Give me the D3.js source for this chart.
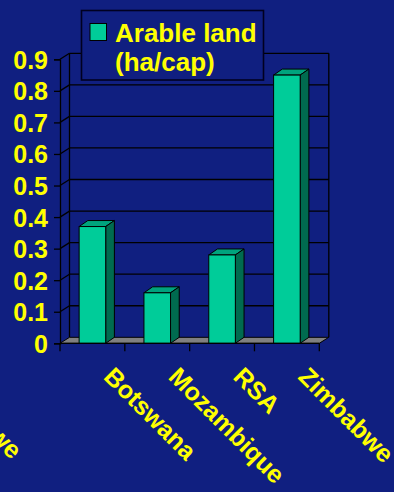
<!DOCTYPE html>
<html>
<head>
<meta charset="utf-8">
<script src="https://cdn.jsdelivr.net/npm/d3@7"></script>
<style>
  html, body { margin: 0; padding: 0; background: #101f80; }
  svg { display: block; }
  text { font-family: "Liberation Sans", Arial, sans-serif; font-weight: bold; fill: #ffff00; }
</style>
</head>
<body>
<svg id="chart" width="394" height="492"></svg>
<script>
// Arable land per capita (ha/cap)
const categories = ["Botswana", "Mozambique", "RSA", "Zimbabwe"];
const arableLand = [0.37, 0.16, 0.28, 0.85];
const yTicks = [0, 0.1, 0.2, 0.3, 0.4, 0.5, 0.6, 0.7, 0.8, 0.9];
const legendLines = ["Arable land", "(ha/cap)"];

const W = 394, H = 492;
const svg = d3.select("#chart");

const colors = {
  bg: "#101f80",
  front: "#00cc99",
  side: "#006b4f",
  top: "#00a37d",
  floor: "#808080",
  text: "#ffff00",
  line: "#000000"
};

// Depth offset of the 3D box (back plane relative to front plane)
const DX = 9.5, DY = -6;

const y = d3.scaleLinear().domain([0, 0.9]).range([343.3, 59.3]);
const x = d3.scaleBand().domain(categories).range([60, 319.3])
  .paddingInner(0.59).paddingOuter(0.295);
const xEdge = d3.scaleBand().domain(categories).range([60, 319.3]).padding(0);

const x0 = 60, x1 = 319.3;

svg.append("rect").attr("width", W).attr("height", H).attr("fill", colors.bg);

const g = svg.append("g");

// Back wall gridlines
g.selectAll("line.grid").data(yTicks.filter(d => d > 0)).join("line")
  .attr("x1", x0 + DX).attr("x2", x1 + DX)
  .attr("y1", d => y(d) + DY).attr("y2", d => y(d) + DY)
  .attr("stroke", colors.line).attr("stroke-width", 1.3);

// Left wall diagonals from the front axis to the back wall
g.selectAll("line.diag").data(yTicks.filter(d => d > 0)).join("line")
  .attr("x1", x0).attr("x2", x0 + DX)
  .attr("y1", d => y(d)).attr("y2", d => y(d) + DY)
  .attr("stroke", colors.line).attr("stroke-width", 1.3);

// Back wall vertical edges
[x0 + DX, x1 + DX].forEach(xx => {
  g.append("line")
    .attr("x1", xx).attr("x2", xx)
    .attr("y1", y(0.9) + DY).attr("y2", y(0) + DY)
    .attr("stroke", colors.line).attr("stroke-width", 1.3);
});

// Floor
g.append("polygon")
  .attr("points", [[x0, y(0)], [x1, y(0)], [x1 + DX, y(0) + DY], [x0 + DX, y(0) + DY]].map(p => p.join(",")).join(" "))
  .attr("fill", colors.floor).attr("stroke", colors.line).attr("stroke-width", 1);

// Bars
const BDX = 8.7, BDY = -6;
const bars = g.selectAll("g.bar").data(categories.map((c, i) => ({ c, v: arableLand[i] }))).join("g");
bars.append("polygon")
  .attr("points", d => {
    const l = x(d.c), r = l + x.bandwidth(), t = y(d.v);
    return [[l, t], [r, t], [r + BDX, t + BDY], [l + BDX, t + BDY]].map(p => p.join(",")).join(" ");
  })
  .attr("fill", colors.top).attr("stroke", colors.line).attr("stroke-width", 1);
bars.append("polygon")
  .attr("points", d => {
    const r = x(d.c) + x.bandwidth(), t = y(d.v), b = y(0);
    return [[r, t], [r + BDX, t + BDY], [r + BDX, b + BDY], [r, b]].map(p => p.join(",")).join(" ");
  })
  .attr("fill", colors.side).attr("stroke", colors.line).attr("stroke-width", 1);
bars.append("rect")
  .attr("x", d => x(d.c)).attr("y", d => y(d.v))
  .attr("width", x.bandwidth()).attr("height", d => y(0) - y(d.v))
  .attr("fill", colors.front).attr("stroke", colors.line).attr("stroke-width", 1);

// Value axis
const yAxis = d3.axisLeft(y).tickValues(yTicks).tickSize(6).tickPadding(6)
  .tickFormat(d => d === 0 ? "0" : d3.format(".1f")(d));
const ya = svg.append("g").attr("transform", `translate(${x0},0)`).call(yAxis);
ya.select(".domain").attr("stroke", colors.line).attr("stroke-width", 1.3);
ya.selectAll(".tick line").attr("stroke", colors.line).attr("stroke-width", 1.3);
ya.selectAll(".tick text")
  .attr("font-size", 25).attr("font-family", "Liberation Sans, Arial, sans-serif")
  .attr("font-weight", "bold").attr("fill", colors.text)
  .attr("dy", "0.36em").attr("x", -12);

// Category axis line and ticks at band edges
svg.append("line").attr("x1", x0).attr("x2", x1).attr("y1", y(0)).attr("y2", y(0))
  .attr("stroke", colors.line).attr("stroke-width", 1.3);
const edges = categories.map(c => xEdge(c)).concat([x1]);
svg.selectAll("line.ctick").data(edges).join("line")
  .attr("x1", d => d).attr("x2", d => d)
  .attr("y1", y(0)).attr("y2", y(0) + 8)
  .attr("stroke", colors.line).attr("stroke-width", 1.3);

// Rotated category labels
svg.selectAll("text.cat").data(categories).join("text")
  .attr("class", "cat")
  .attr("font-size", 25)
  .attr("transform", d => `translate(${x(d) + x.bandwidth() / 2 + 10},378) rotate(45)`)
  .text(d => d);

// Label of a neighbouring axis running off the left edge
svg.append("text")
  .attr("font-size", 25)
  .attr("transform", `translate(${x("Zimbabwe") + x.bandwidth() / 2 + 10 - 372},374) rotate(45)`)
  .text("Zimbabwe");

// Legend
const lg = svg.append("g");
lg.append("rect").attr("x", 81.5).attr("y", 10.5).attr("width", 182).attr("height", 69.5)
  .attr("fill", colors.bg).attr("stroke", "#000020").attr("stroke-width", 1.6);
lg.append("rect").attr("x", 90).attr("y", 23.5).attr("width", 16.5).attr("height", 17)
  .attr("fill", colors.front).attr("stroke", colors.line).attr("stroke-width", 1);
lg.selectAll("text.lg").data(legendLines).join("text")
  .attr("x", 115).attr("y", (d, i) => 42 + i * 29)
  .attr("font-size", 26)
  .text(d => d);
</script>
</body>
</html>
